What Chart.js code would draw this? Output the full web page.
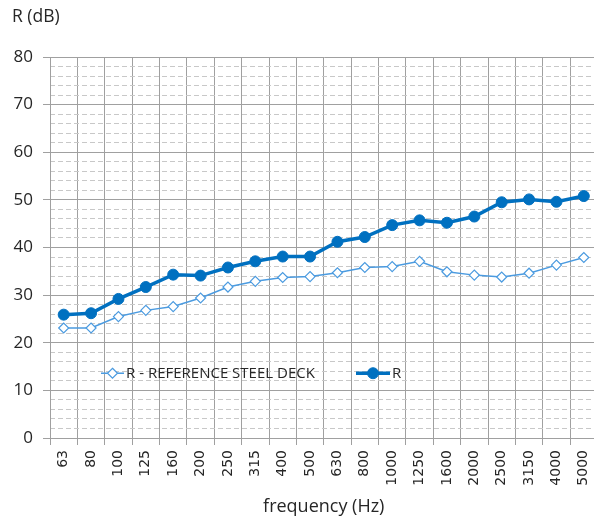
<!DOCTYPE html>
<html>
<head>
<meta charset="utf-8">
<script src="https://cdn.jsdelivr.net/npm/chart.js@4.4.1/dist/chart.umd.min.js"></script>
<style>
  html, body { margin: 0; padding: 0; overflow: hidden; background: #ffffff; }
  #wrap { width: 604px; height: 524px; }
</style>
</head>
<body>
<div id="wrap"><canvas id="chart" width="604" height="524"></canvas></div>
<script>
// Third-octave band centre frequencies (Hz)
const frequencies = ['63', '80', '100', '125', '160', '200', '250', '315', '400', '500',
  '630', '800', '1000', '1250', '1600', '2000', '2500', '3150', '4000', '5000'];

// Sound reduction index, reference steel deck (dB)
const referenceDeck = [23.1, 23.1, 25.5, 26.8, 27.6, 29.4, 31.7, 32.9, 33.7, 33.9,
  34.7, 35.8, 36.0, 37.1, 34.9, 34.2, 33.8, 34.6, 36.3, 37.9];

// Sound reduction index R (dB)
const reductionR = [25.9, 26.2, 29.2, 31.7, 34.3, 34.1, 35.8, 37.1, 38.1, 38.1,
  41.2, 42.2, 44.7, 45.7, 45.2, 46.5, 49.5, 50.1, 49.6, 50.8];

const seriesNames = ['R - REFERENCE STEEL DECK', 'R'];
const yTitle = 'R (dB)';
const xTitle = 'frequency (Hz)';

const textColor = '#262626';
const majorGrid = '#A0A0A0';
const minorGrid = '#C8C8C8';

// Legend drawn inside the plot area, on the 10–20 dB band
const insideLegend = {
  id: 'insideLegend',
  afterDraw(chart) {
    const ctx = chart.ctx;
    const yScale = chart.scales.y;
    const y = yScale.getPixelForValue(13.6);
    const starts = [101, 356];
    const lineLens = [23, 34];
    ctx.save();
    ctx.font = '15px "Open Sans", sans-serif';
    ctx.textBaseline = 'middle';
    chart.data.datasets.forEach((ds, i) => {
      const x0 = starts[i];
      const x1 = x0 + lineLens[i];
      const cx = (x0 + x1) / 2;
      ctx.strokeStyle = ds.borderColor;
      ctx.lineWidth = ds.borderWidth;
      ctx.beginPath();
      ctx.moveTo(x0, y);
      ctx.lineTo(x1, y);
      ctx.stroke();
      ctx.fillStyle = ds.pointBackgroundColor;
      ctx.strokeStyle = ds.pointBorderColor;
      ctx.lineWidth = ds.pointBorderWidth;
      ctx.beginPath();
      if (ds.pointStyle === 'rectRot') {
        const r = ds.pointRadius;
        ctx.moveTo(cx, y - r); ctx.lineTo(cx + r, y); ctx.lineTo(cx, y + r); ctx.lineTo(cx - r, y); ctx.closePath();
      } else {
        ctx.arc(cx, y, ds.pointRadius, 0, Math.PI * 2);
      }
      ctx.fill();
      ctx.stroke();
      ctx.fillStyle = textColor;
      ctx.fillText(ds.label, x1 + 2, y + 1);
    });
    ctx.restore();
  }
};

new Chart(document.getElementById('chart'), {
  type: 'line',
  data: {
    labels: frequencies,
    datasets: [
      {
        label: seriesNames[0],
        data: referenceDeck,
        yAxisID: 'y',
        borderColor: '#4B9BE0',
        borderWidth: 1.5,
        pointStyle: 'rectRot',
        pointRadius: 5,
        pointHoverRadius: 5,
        pointBorderWidth: 1.2,
        pointBackgroundColor: '#ffffff',
        pointBorderColor: '#4B9BE0',
        tension: 0
      },
      {
        label: seriesNames[1],
        data: reductionR,
        yAxisID: 'y',
        borderColor: '#0070C0',
        borderWidth: 3.5,
        pointStyle: 'circle',
        pointRadius: 5.5,
        pointHoverRadius: 5.5,
        pointBorderWidth: 1,
        pointBackgroundColor: '#0070C0',
        pointBorderColor: '#0070C0',
        tension: 0
      }
    ]
  },
  options: {
    responsive: false,
    animation: false,
    events: [],
    layout: { padding: { left: 12, right: 6, top: 0, bottom: 6 } },
    plugins: {
      legend: { display: false },
      tooltip: { enabled: false },
      title: {
        display: true,
        text: yTitle,
        align: 'start',
        color: textColor,
        font: { family: '"Open Sans", sans-serif', size: 17.5, weight: 'normal', lineHeight: 1.2 },
        padding: { top: 7, bottom: 29 }
      }
    },
    scales: {
      x: {
        type: 'category',
        offset: true,
        afterFit(scale) {
          scale.height = 80;
          scale.paddingLeft = 0;
          scale.paddingRight = 0;
        },
        grid: {
          offset: true,
          color: majorGrid,
          lineWidth: 1,
          drawTicks: true,
          tickLength: 7,
          tickColor: majorGrid
        },
        border: { display: true, color: majorGrid },
        ticks: {
          autoSkip: false,
          minRotation: 90,
          maxRotation: 90,
          padding: 5,
          color: textColor,
          font: { family: '"DejaVu Sans", sans-serif', size: 14 }
        },
        title: {
          display: true,
          text: xTitle,
          color: textColor,
          font: { family: '"Open Sans", sans-serif', size: 18, lineHeight: 1.2 },
          padding: { top: 0, bottom: 0 }
        }
      },
      y2: {
        position: 'left',
        min: 0,
        max: 80,
        afterFit(scale) { scale.width = 0; },
        ticks: { display: false, stepSize: 2 },
        grid: {
          drawTicks: false,
          color: (c) => (c.tick && Math.round(c.tick.value) % 10 === 0) ? 'rgba(0,0,0,0)' : minorGrid,
          lineWidth: 1
        },
        border: { display: false, dash: [5, 3] }
      },
      y: {
        position: 'left',
        min: 0,
        max: 80,
        afterFit(scale) { scale.width = 38; },
        ticks: {
          stepSize: 10,
          padding: 10,
          color: textColor,
          font: { family: '"Open Sans", sans-serif', size: 17 }
        },
        grid: {
          color: majorGrid,
          lineWidth: 1,
          drawTicks: true,
          tickLength: 7,
          tickColor: majorGrid
        },
        border: { display: true, color: majorGrid }
      }
    }
  },
  plugins: [insideLegend]
});
</script>
</body>
</html>
